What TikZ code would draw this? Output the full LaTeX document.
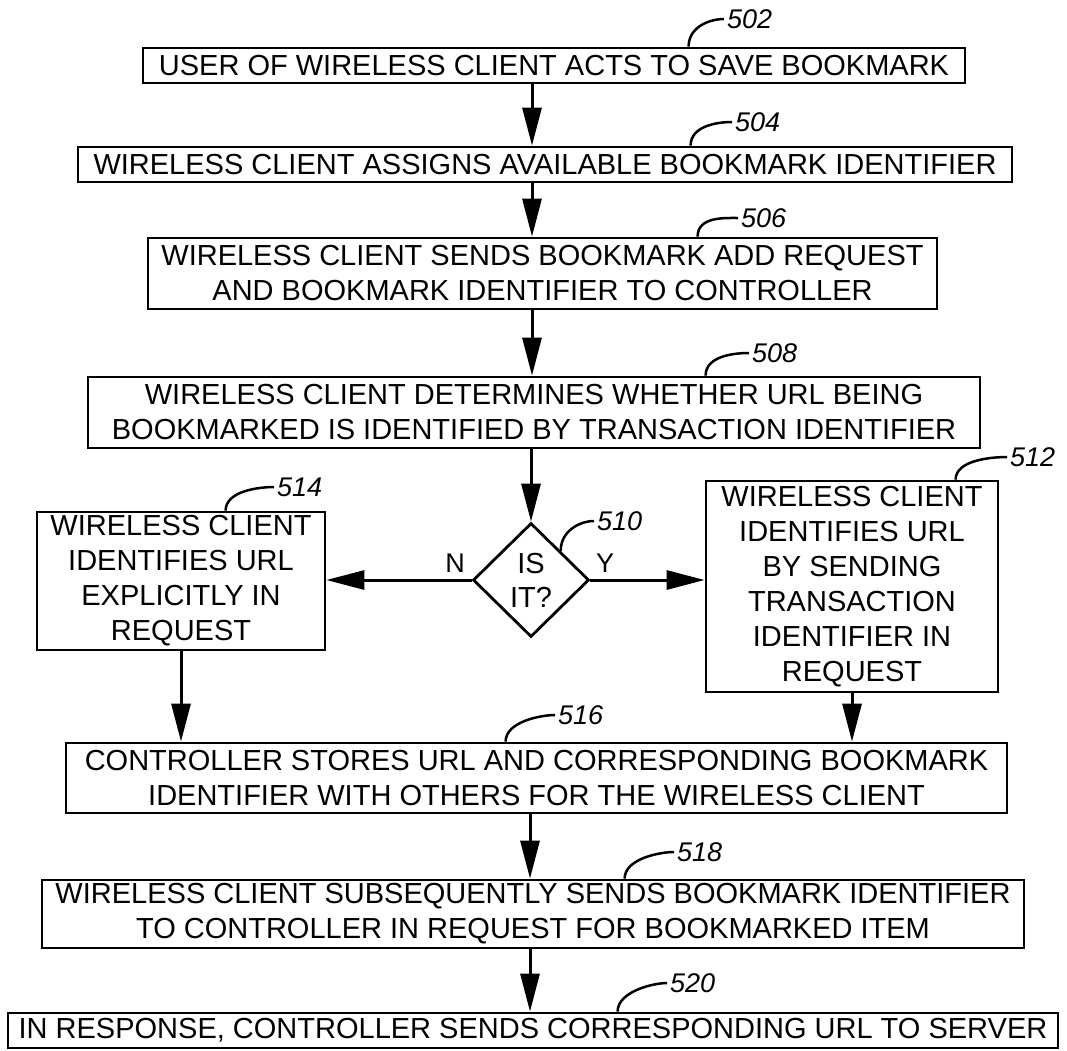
\documentclass[tikz,border=0pt]{standalone}
\usepackage{fontspec}
\setmainfont{Liberation Sans}
\usetikzlibrary{shapes.geometric,arrows.meta}

\begin{document}
\begin{tikzpicture}[x=1pt,y=-1pt,
  stepbox/.style={draw, line width=2.8pt, inner sep=0pt, align=center,
    font=\fontsize{29}{35}\selectfont},
  decision/.style={diamond, draw, line width=2.8pt, inner sep=0pt, align=center,
    font=\fontsize{29}{34}\selectfont, minimum width=116pt, minimum height=114pt},
  flow/.style={line width=3pt, -{Triangle[length=38pt,width=19pt]}},
  refnum/.style={font=\fontsize{27}{30}\selectfont\itshape, inner sep=0pt, anchor=west},
  leader/.style={line width=2.5pt},
  branch/.style={font=\fontsize{27}{30}\selectfont, inner sep=0pt}
]
\useasboundingbox (0,0) rectangle (1067,1050);

% main column of steps
\node[stepbox, minimum width=822pt, minimum height=35pt] (n502) at (554,65.5)
  {USER OF WIRELESS CLIENT ACTS TO SAVE BOOKMARK};
\node[stepbox, minimum width=934pt, minimum height=35pt] (n504) at (545,164.5)
  {WIRELESS CLIENT ASSIGNS AVAILABLE BOOKMARK IDENTIFIER};
\node[stepbox, minimum width=789pt, minimum height=71pt] (n506) at (542.5,273.5)
  {WIRELESS CLIENT SENDS BOOKMARK ADD REQUEST\\AND BOOKMARK IDENTIFIER TO CONTROLLER};
\node[stepbox, minimum width=892pt, minimum height=71pt] (n508) at (534,412.5)
  {WIRELESS CLIENT DETERMINES WHETHER URL BEING\\BOOKMARKED IS IDENTIFIED BY TRANSACTION IDENTIFIER};
\node[decision] (n510) at (531,580) {IS\\IT?};
\node[stepbox, minimum width=288pt, minimum height=138pt] (n514) at (181,581)
  {WIRELESS CLIENT\\IDENTIFIES URL\\EXPLICITLY IN\\REQUEST};
\node[stepbox, minimum width=292pt, minimum height=211pt] (n512) at (852,586.5)
  {WIRELESS CLIENT\\IDENTIFIES URL\\BY SENDING\\TRANSACTION\\IDENTIFIER IN\\REQUEST};
\node[stepbox, minimum width=941pt, minimum height=70pt] (n516) at (536.5,778)
  {CONTROLLER STORES URL AND CORRESPONDING BOOKMARK\\IDENTIFIER WITH OTHERS FOR THE WIRELESS CLIENT};
\node[stepbox, minimum width=982pt, minimum height=68pt] (n518) at (533,914)
  {WIRELESS CLIENT SUBSEQUENTLY SENDS BOOKMARK IDENTIFIER\\TO CONTROLLER IN REQUEST FOR BOOKMARKED ITEM};
\node[stepbox, minimum width=1050pt, minimum height=35pt] (n520) at (533,1030.5)
  {IN RESPONSE, CONTROLLER SENDS CORRESPONDING URL TO SERVER};

% reference numerals
\node[refnum] (l502) at (727,19) {502};
\node[refnum] (l504) at (735,122) {504};
\node[refnum] (l506) at (741,218) {506};
\node[refnum] (l508) at (752,353) {508};
\node[refnum] (l510) at (597,521) {510};
\node[refnum] (l512) at (1010,457) {512};
\node[refnum] (l514) at (277,487) {514};
\node[refnum] (l516) at (558,715) {516};
\node[refnum] (l518) at (677,852) {518};
\node[refnum] (l520) at (670,983) {520};

% leader curves from the numerals to their elements
\draw[leader] ([xshift=547pt]n502.north west) .. controls +(0,-20) and +(-14,0) .. ([xshift=-3pt]l502.west);
\draw[leader] ([xshift=614pt]n504.north west) .. controls +(0,-20) and +(-14,0) .. ([xshift=-3pt]l504.west);
\draw[leader] ([xshift=551pt]n506.north west) .. controls +(0,-20) and +(-14,0) .. ([xshift=-3pt]l506.west);
\draw[leader] ([xshift=619pt]n508.north west) .. controls +(0,-20) and +(-14,0) .. ([xshift=-3pt]l508.west);
\draw[leader] (n510.north east) .. controls +(0,-20) and +(-14,0) .. ([xshift=-3pt]l510.west);
\draw[leader] ([xshift=251pt]n512.north west) .. controls +(0,-20) and +(-14,0) .. ([xshift=-3pt]l512.west);
\draw[leader] ([xshift=190pt]n514.north west) .. controls +(0,-20) and +(-14,0) .. ([xshift=-3pt]l514.west);
\draw[leader] ([xshift=441pt]n516.north west) .. controls +(0,-20) and +(-14,0) .. ([xshift=-3pt]l516.west);
\draw[leader] ([xshift=584pt]n518.north west) .. controls +(0,-20) and +(-14,0) .. ([xshift=-3pt]l518.west);
\draw[leader] ([xshift=611pt]n520.north west) .. controls +(0,-20) and +(-14,0) .. ([xshift=-3pt]l520.west);

% flow connectors
\coordinate (ax) at (532,0);
\coordinate (bx) at (530,0);
\draw[flow] (n502.south -| ax) -- (n504.north -| ax);
\draw[flow] (n504.south -| ax) -- (n506.north -| ax);
\draw[flow] (n506.south -| ax) -- (n508.north -| ax);
\draw[flow] (n508.south -| n510.north) -- (n510.north);
\draw[flow] (n510.west) -- (n510.west -| n514.east);
\draw[flow] (n510.east) -- (n510.east -| n512.west);
\draw[flow] (n514.south) -- (n514.south |- n516.north);
\draw[flow] (n512.south) -- (n512.south |- n516.north);
\draw[flow] (n516.south -| bx) -- (n518.north -| bx);
\draw[flow] (n518.south -| bx) -- (n520.north -| bx);

% branch labels
\node[branch] (bn) at (455,563) {N};
\node[branch] (by) at (605,563) {Y};
\end{tikzpicture}
\end{document}
